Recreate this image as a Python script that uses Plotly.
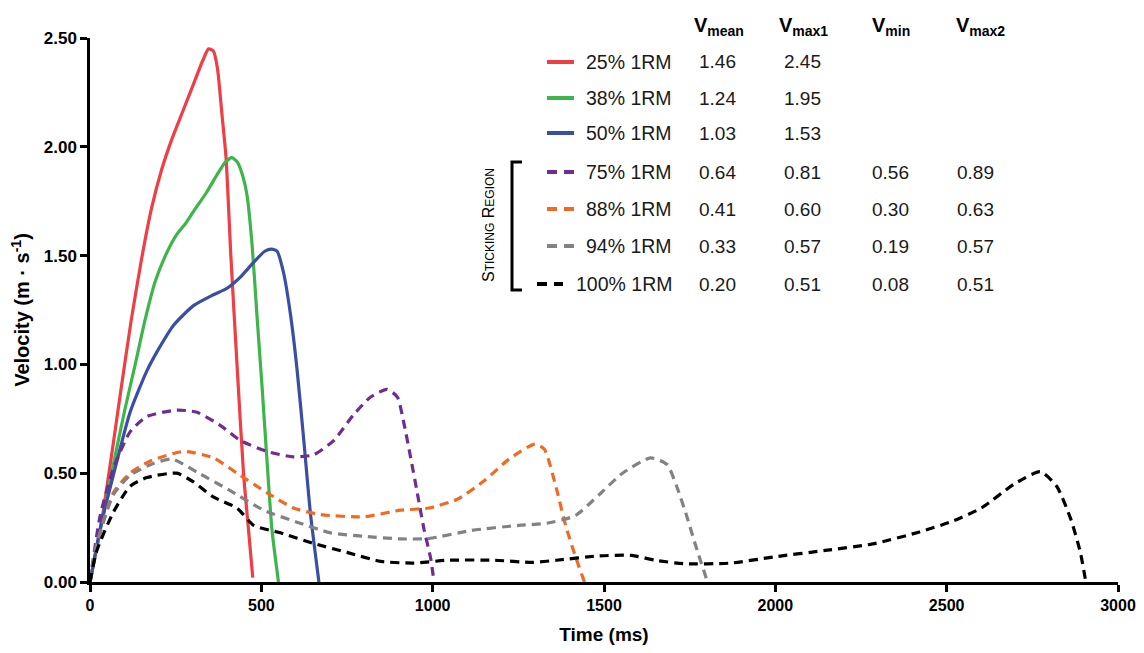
import plotly.graph_objects as go

# ---- data ----
t25 = [0, 30, 60, 90, 120, 150, 180, 210, 240, 270, 300, 330, 346, 360, 372, 385, 397, 411, 429, 448, 462, 475]
v25 = [0, 0.24, 0.55, 0.88, 1.2, 1.48, 1.72, 1.9, 2.04, 2.16, 2.28, 2.4, 2.45, 2.44, 2.36, 2.15, 1.95, 1.5, 1.0, 0.5, 0.25, 0.02]

t38 = [0, 50, 100, 132, 160, 190, 220, 250, 280, 305, 340, 370, 395, 414, 430, 445, 458, 473, 487, 502, 516, 531, 550]
v38 = [0, 0.4, 0.78, 1.0, 1.2, 1.38, 1.5, 1.59, 1.65, 1.71, 1.79, 1.87, 1.93, 1.95, 1.93, 1.87, 1.78, 1.55, 1.23, 0.9, 0.57, 0.24, 0]

t50 = [0, 29, 68, 117, 166, 200, 244, 302, 360, 400, 438, 478, 510, 530, 546, 565, 585, 604, 624, 643, 668]
v50 = [0, 0.24, 0.49, 0.78, 0.97, 1.07, 1.18, 1.27, 1.32, 1.35, 1.4, 1.47, 1.52, 1.53, 1.52, 1.42, 1.23, 0.98, 0.65, 0.32, 0]

t75 = [0, 29, 68, 117, 166, 253, 312, 380, 439, 517, 594, 653, 711, 770, 819, 867, 897, 916, 936, 955, 975, 994, 1004]
v75 = [0, 0.3, 0.52, 0.69, 0.76, 0.79, 0.78, 0.72, 0.65, 0.6, 0.575, 0.585, 0.65, 0.77, 0.85, 0.885, 0.85, 0.73, 0.57, 0.41, 0.24, 0.11, 0]

t88 = [0, 19, 68, 117, 175, 273, 361, 429, 517, 594, 672, 799, 906, 989, 1072, 1154, 1223, 1299, 1326, 1361, 1388, 1416, 1443]
v88 = [0, 0.16, 0.41, 0.5, 0.555, 0.6, 0.57, 0.5, 0.41, 0.34, 0.31, 0.3, 0.33, 0.34, 0.38, 0.47, 0.565, 0.634, 0.61, 0.43, 0.26, 0.12, 0]

t94 = [0, 19, 68, 117, 185, 240, 312, 409, 507, 604, 702, 799, 906, 989, 1113, 1251, 1333, 1416, 1485, 1554, 1636, 1684, 1712, 1740, 1767, 1802]
v94 = [0, 0.17, 0.4, 0.49, 0.545, 0.565, 0.505, 0.42, 0.33, 0.275, 0.226, 0.21, 0.198, 0.2, 0.237, 0.26, 0.27, 0.305, 0.4, 0.5, 0.57, 0.54, 0.44, 0.31, 0.17, 0]

t100 = [0, 19, 68, 117, 166, 253, 302, 361, 429, 478, 556, 653, 750, 848, 945, 1044, 1182, 1292, 1361, 1485, 1581, 1650, 1733, 1870, 1994, 2146, 2284, 2421, 2518, 2601, 2697, 2773, 2821, 2862, 2890, 2905]
v100 = [0, 0.14, 0.32, 0.44, 0.48, 0.5, 0.46, 0.39, 0.34, 0.26, 0.226, 0.177, 0.136, 0.095, 0.087, 0.1, 0.1, 0.09, 0.1, 0.12, 0.122, 0.1, 0.084, 0.087, 0.115, 0.145, 0.175, 0.23, 0.28, 0.34, 0.45, 0.507, 0.44, 0.29, 0.137, 0.01]

labels = ["25% 1RM", "38% 1RM", "50% 1RM", "75% 1RM", "88% 1RM", "94% 1RM", "100% 1RM"]
v_mean = ["1.46", "1.24", "1.03", "0.64", "0.41", "0.33", "0.20"]
v_max1 = ["2.45", "1.95", "1.53", "0.81", "0.60", "0.57", "0.51"]
v_min = ["", "", "", "0.56", "0.30", "0.19", "0.08"]
v_max2 = ["", "", "", "0.89", "0.63", "0.57", "0.51"]
headers = ["V<sub>mean</sub>", "V<sub>max1</sub>", "V<sub>min</sub>", "V<sub>max2</sub>"]

x_ticks = [0, 500, 1000, 1500, 2000, 2500, 3000]
y_ticks = [0, 0.5, 1.0, 1.5, 2.0, 2.5]

colors = ["#EE3E46", "#3DB54A", "#3A4EA3", "#6F2C91", "#F26A22", "#808285", "#000000"]
DASH = "9px,6px"
dashes = ["solid", "solid", "solid", DASH, DASH, DASH, DASH]
series = [(t25, v25), (t38, v38), (t50, v50), (t75, v75), (t88, v88), (t94, v94), (t100, v100)]

# ---- figure geometry (page pixels; the page body has an 8px margin) ----
OFF = 8
W, H = 1144 - 2 * OFF, 653 - 2 * OFF
PL, PR, PT, PB = 90, 1118, 38, 582          # plot area in page pixels
L, T = PL - OFF, PT - OFF
R, B = W - (PR - OFF), H - (PB - OFF)
pw, ph = PR - PL, PB - PT


def px(x):
    return (x - PL) / pw


def py(y):
    return (PB - y) / ph


fig = go.Figure()
for (t, v), c, d, name in zip(series, colors, dashes, labels):
    fig.add_trace(go.Scatter(x=t, y=v, mode="lines", name=name, showlegend=False,
                             line=dict(color=c, width=3.2, dash=d, shape="spline", smoothing=0.6)))

FONT = "Liberation Sans, Arial, sans-serif"
ann = []
shapes = []

# header
hdr_x = [719, 803, 891, 980]
for hx, h in zip(hdr_x, headers):
    ann.append(dict(x=px(hx), y=py(27), xref="paper", yref="paper", text="<b>" + h + "</b>",
                    showarrow=False, font=dict(size=20, color="black", family=FONT),
                    xanchor="center", yanchor="middle"))

row_y = [62, 98, 133, 172, 209, 246, 284]
col_x = [717, 802, 890, 975]
for i, (ry, lab) in enumerate(zip(row_y, labels)):
    ann.append(dict(x=px(674), y=py(ry), xref="paper", yref="paper", text=lab, showarrow=False,
                    font=dict(size=19.5, color="#1a1a1a", family=FONT), xanchor="right", yanchor="middle"))
    for cx, vals in zip(col_x, [v_mean, v_max1, v_min, v_max2]):
        if vals[i]:
            ann.append(dict(x=px(cx), y=py(ry), xref="paper", yref="paper", text=vals[i], showarrow=False,
                            font=dict(size=19, color="#1a1a1a", family=FONT), xanchor="center",
                            yanchor="middle"))
    x0, x1 = (547, 574) if i < 6 else (537, 563)
    shapes.append(dict(type="line", xref="paper", yref="paper", x0=px(x0), x1=px(x1), y0=py(ry), y1=py(ry),
                       line=dict(color=colors[i], width=4, dash=("solid" if i < 3 else "10px,7px"))))

# bracket
shapes.append(dict(type="path", xref="paper", yref="paper",
                   path=f"M {px(522)} {py(162)} L {px(512)} {py(162)} L {px(512)} {py(290)} L {px(522)} {py(290)}",
                   line=dict(color="black", width=3)))
ann.append(dict(x=px(488), y=py(225), xref="paper", yref="paper", textangle=-90,
                text="S<span style='font-size:12px'>TICKING</span> R<span style='font-size:12px'>EGION</span>",
                showarrow=False, font=dict(size=16, color="black", family=FONT),
                xanchor="center", yanchor="middle"))

fig.update_layout(
    width=W, height=H,
    margin=dict(l=L, r=R, t=T, b=B, autoexpand=False),
    plot_bgcolor="white", paper_bgcolor="white",
    annotations=ann, shapes=shapes,
    xaxis=dict(range=[0, 3000], tickvals=x_ticks, ticktext=[f"<b>{v}</b>" for v in x_ticks],
               showgrid=False, zeroline=False, showline=True, linecolor="black", linewidth=2.5,
               ticks="outside", ticklen=7, tickwidth=2.5, tickcolor="black", ticklabeloverflow="allow",
               tickfont=dict(size=16, color="black", family=FONT),
               title=dict(text="<b>Time (ms)</b>", font=dict(size=19, color="black", family=FONT), standoff=22)),
    yaxis=dict(range=[0, 2.5], tickvals=y_ticks, ticktext=[f"<b>{v:.2f}</b>" for v in y_ticks],
               showgrid=False, zeroline=False, showline=True, linecolor="black", linewidth=2.5,
               ticks="outside", ticklen=7, tickwidth=2.5, tickcolor="black",
               tickfont=dict(size=17, color="black", family=FONT),
               title=dict(text="<b>Velocity (m · s<sup>-1</sup>)</b>", font=dict(size=20, color="black", family=FONT),
                          standoff=12)),
)

fig.write_html("out.html")
